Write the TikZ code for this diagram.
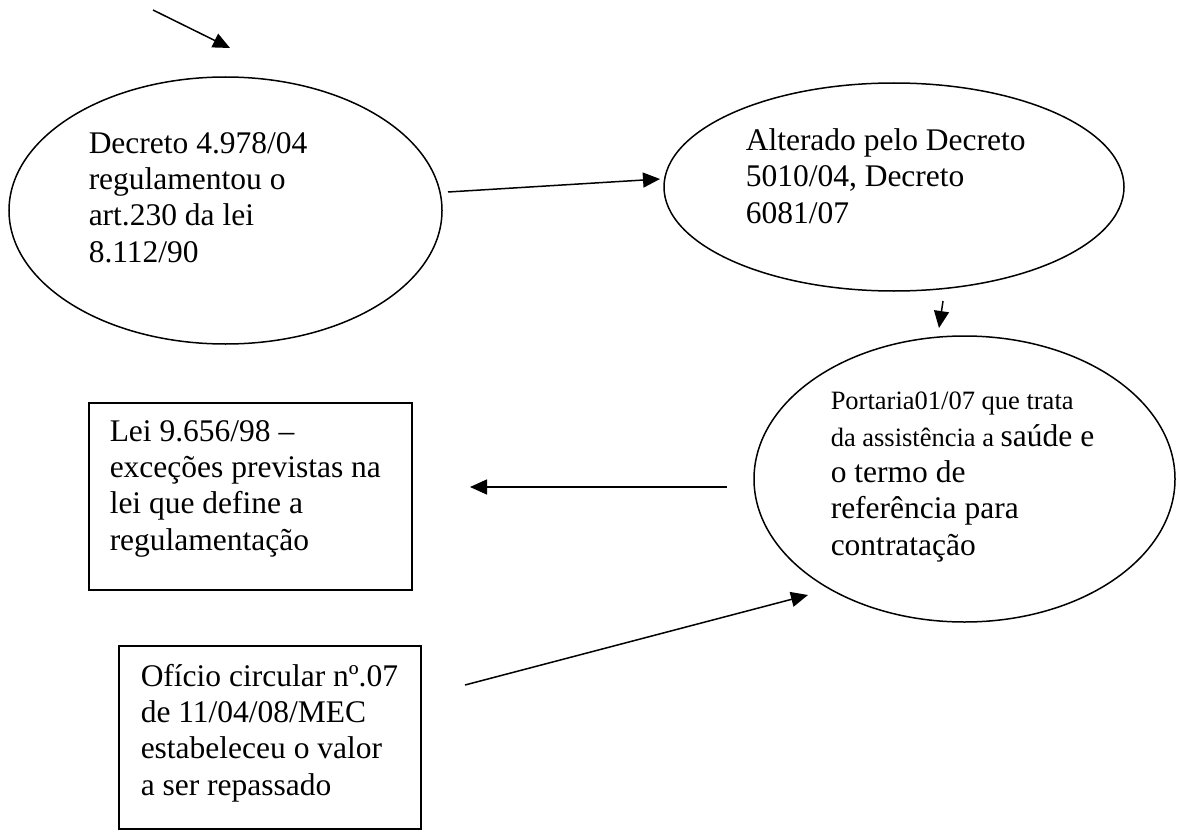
\documentclass[tikz,border=0pt]{standalone}
\usepackage{fontspec}
\setmainfont{Liberation Serif}
\usetikzlibrary{shapes.geometric,arrows.meta}

\begin{document}
\begin{tikzpicture}[x=1pt,y=-1pt,line width=1.5pt,
  every node/.style={inner sep=0pt},
  bubble/.style={draw,ellipse},
  card/.style={draw,rectangle,line width=1.3pt},
  txt/.style={anchor=base west,align=left,font=\fontsize{31.5}{36.3}\selectfont},
  link/.style={-{Triangle[length=17pt,width=15pt]}}]
\useasboundingbox (0,0) rectangle (1177,832);
\node [bubble,minimum width=433,minimum height=267] (decreto) at (225.5,210.5) {};
\node [txt] (decreto-txt) at (88,262) {Decreto 4.978/04\\regulamentou o\\art.230 da lei\\8.112/90};
\node [bubble,minimum width=460,minimum height=208] (alterado) at (894,187) {};
\node [txt] (alterado-txt) at (745,223) {Alterado pelo Decreto\\5010/04, Decreto\\6081/07};
\node [bubble,minimum width=421,minimum height=286] (portaria) at (964.5,479) {};
\node [txt] (portaria-txt) at (830,555) {{\fontsize{26.5}{36.3}\selectfont Portaria01/07 que trata}\\{\fontsize{26.5}{36.3}\selectfont da assistência a }saúde e\\o termo de\\referência para\\contratação};
\node [card,minimum width=323,minimum height=187] (lei) at (250.5,496.5) {};
\node [txt] (lei-txt) at (109,550) {Lei 9.656/98 –\\exceções previstas na\\lei que define a\\regulamentação};
\node [card,minimum width=302,minimum height=183] (oficio) at (270,737.5) {};
\node [txt] (oficio-txt) at (140,795) {Ofício circular nº.07\\de 11/04/08/MEC\\estabeleceu o valor\\a ser repassado};
\coordinate (top-s) at (153,10);
\coordinate (top-e) at (230,48);
\coordinate (dec-s) at (448,192);
\coordinate (alt-e) at (660,179);
\coordinate (alt-s) at (943,301);
\coordinate (por-e) at (939,328);
\coordinate (por-s) at (727,487);
\coordinate (lei-e) at (470,487);
\coordinate (ofi-s) at (465,685);
\coordinate (ofi-e) at (808,595);
\draw [black,link] (top-s) -- (top-e);
\draw [black,link] (dec-s) -- (alt-e);
\draw [black,link] (alt-s) -- (por-e);
\draw [black,link] (por-s) -- (lei-e);
\draw [black,link] (ofi-s) -- (ofi-e);
\end{tikzpicture}
\end{document}
